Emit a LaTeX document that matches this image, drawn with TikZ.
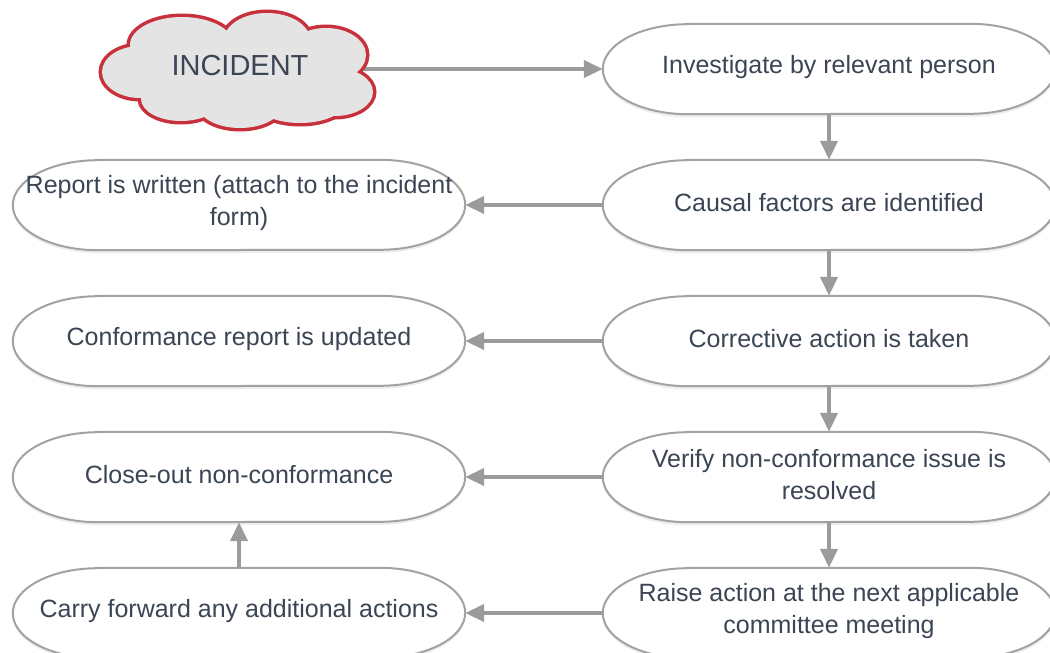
\documentclass[tikz,border=0pt]{standalone}
\usepackage{fontspec}
\setmainfont{Liberation Sans}
\usetikzlibrary{arrows.meta,shadows,calc,backgrounds}

\definecolor{inkc}{HTML}{3B4554}
\definecolor{linec}{HTML}{9B9B9B}
\definecolor{edgec}{HTML}{A2A2A2}
\definecolor{cloudfill}{HTML}{E4E4E4}
\definecolor{cloudedge}{HTML}{C8303B}

\begin{document}
\begin{tikzpicture}[x=1pt,y=-1pt,
  box/.style={rectangle, minimum width=452pt, minimum height=90pt, inner sep=0pt},
  boxtext/.style={text=inkc, align=center, inner sep=0pt, yshift=2pt,
    font=\fontsize{25}{32}\selectfont},
  boxline/.style={draw=edgec, line width=2pt, fill=white,
    drop shadow={opacity=0.14, shadow xshift=0pt, shadow yshift=-3pt}},
  flow/.style={draw=linec, line width=4pt, -{Triangle[length=19pt,width=17pt]}}
]
\useasboundingbox (0,0) rectangle (1050,653);

% right column
\node[box, label={[boxtext]center:Investigate by relevant person}] (inv) at (829,69) {};
\node[box, label={[boxtext]center:Causal factors are identified}] (cause) at (829,205) {};
\node[box, label={[boxtext]center:Corrective action is taken}] (corr) at (829,341) {};
\node[box, label={[boxtext]center:Verify non-conformance issue is\\resolved}] (verify) at (829,477) {};
\node[box, label={[boxtext]center:Raise action at the next applicable\\committee meeting}] (raise) at (829,613) {};

% left column
\node[box, label={[boxtext]center:Report is written (attach to the incident\\form)}] (report) at (239,205) {};
\node[box, label={[boxtext]center:Conformance report is updated}] (conf) at (239,341) {};
\node[box, label={[boxtext]center:Close-out non-conformance}] (close) at (239,477) {};
\node[box, label={[boxtext]center:Carry forward any additional actions}] (carry) at (239,613) {};

% terminator outlines behind the labels
\begin{scope}[on background layer]
  \foreach \n in {inv,cause,corr,verify,raise,report,conf,close,carry}{
    \path[boxline]
      ($(\n.north west)+(85,0)$) -- ($(\n.north east)+(-85,0)$)
      arc[start angle=90, end angle=-90, x radius=85pt, y radius=45pt]
      -- ($(\n.south west)+(85,0)$)
      arc[start angle=270, end angle=90, x radius=85pt, y radius=45pt]
      -- cycle;
  }
\end{scope}

% connectors
\coordinate (incout) at (350,69);
\draw[flow] (incout) -- (inv.west);
\draw[flow] (inv.south) -- (cause.north);
\draw[flow] (cause.south) -- (corr.north);
\draw[flow] (corr.south) -- (verify.north);
\draw[flow] (verify.south) -- (raise.north);
\draw[flow] (cause.west) -- (report.east);
\draw[flow] (corr.west) -- (conf.east);
\draw[flow] (verify.west) -- (close.east);
\draw[flow] (raise.west) -- (carry.east);
\draw[flow] (carry.north) -- (close.south);

% start event: cloud built from overlapping puffs
\def\puffs{140/72/38/26, 182/45/52/28, 267/40/43/27, 326/55/40/27,
  335/92/38/24, 300/102/45/21, 240/105/42/23, 181/99/40/22}
\begin{scope}[transparency group, opacity=0.14]
  \foreach \cx/\cy/\rx/\ry in \puffs
    \fill[black] (\cx,\cy+3) ellipse [x radius=\rx, y radius=\ry];
\end{scope}
\foreach \cx/\cy/\rx/\ry in \puffs
  \draw[cloudedge, line width=7pt] (\cx,\cy) ellipse [x radius=\rx, y radius=\ry];
\foreach \cx/\cy/\rx/\ry in \puffs
  \fill[cloudfill] (\cx,\cy) ellipse [x radius=\rx, y radius=\ry];
\fill[cloudfill] (240,72) ellipse [x radius=105, y radius=36];
\node[text=inkc, font=\fontsize{29}{34}\selectfont] (inc) at (240,66) {INCIDENT};
\end{tikzpicture}
\end{document}
